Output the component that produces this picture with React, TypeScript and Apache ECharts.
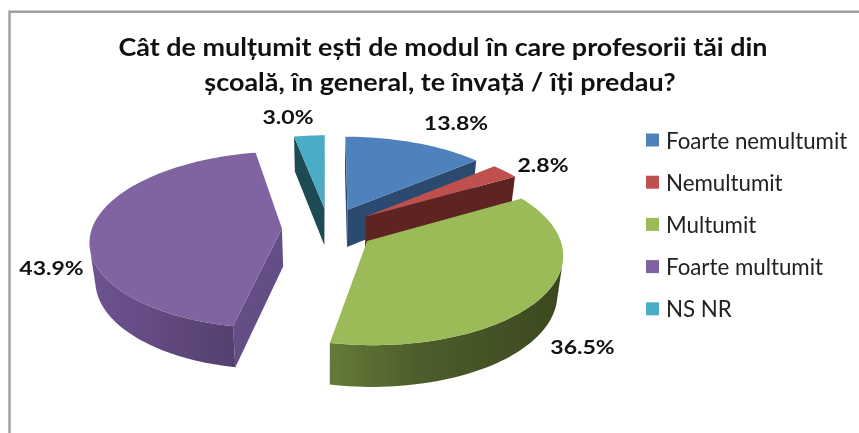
import React, { useEffect, useRef } from "react";
import * as echarts from "echarts";

const categories = ["Foarte nemultumit", "Nemultumit", "Multumit", "Foarte multumit", "NS NR"];
const values = [13.8, 2.8, 36.5, 43.9, 3.0];
const titleLines = [
  "Cât de mulțumit ești de modul în care profesorii tăi din",
  "școală, în general, te învață / îți predau?",
];
const topColors = ["#4F81BD", "#C0504D", "#9BBB59", "#8064A2", "#4BACC6"];
const cutColors = ["#2C4A70", "#5E2422", "#4A5C28", "#654D85", "#1E4A54"];
const wallStops = [
  ["#2C4A70", "#2C4A70", "#2C4A70"],
  ["#5E2422", "#5E2422", "#5E2422"],
  ["#647B38", "#4C5C2A", "#3B481F"],
  ["#6E5490", "#644B84", "#553F6E"],
  ["#1E4A54", "#1E4A54", "#1E4A54"],
];
const labelAnchors = [
  [456, 123],
  [543, 165],
  [582.5, 347],
  [51.5, 267.5],
  [288, 117],
];
const drawOrder = [4, 0, 1, 2, 3];

const CX = 328.5, CY = 228.5, RX = 190, RY = 87, K = 0.13, DEPTH = 38, SHRINK = 0.975, EXPLODE = 0.245;
const total = values.reduce((a, b) => a + b, 0);

type P = [number, number];
const top = (X: number, Y: number): P => {
  const s = 1 / (1 + K * Y);
  return [CX + X * RX * s, CY - Y * RY * s];
};
const bot = (X: number, Y: number): P => {
  const s = 1 / (1 + K * Y);
  return [CX + X * RX * s * SHRINK, CY - Y * RY * s * SHRINK + DEPTH * s];
};
const area = (pts: P[]) => {
  let a = 0;
  pts.forEach((p, i) => {
    const q = pts[(i + 1) % pts.length];
    a += p[0] * q[1] - q[0] * p[1];
  });
  return a / 2;
};

function renderSlice(index: number) {
  return (_params: any, api: any) => {
    const before = values.slice(0, index).reduce((a, b) => a + b, 0);
    const value = api.value(0);
    const a0 = (before / total) * Math.PI * 2;
    const a1 = ((before + value) / total) * Math.PI * 2;
    const mid = (a0 + a1) / 2;
    const ox = EXPLODE * Math.sin(mid);
    const oy = EXPLODE * Math.cos(mid);
    const steps = Math.max(6, Math.ceil((a1 - a0) / 0.03));
    const rim: P[] = [];
    for (let i = 0; i <= steps; i++) {
      const a = a0 + ((a1 - a0) * i) / steps;
      rim.push([ox + Math.sin(a), oy + Math.cos(a)]);
    }
    const children: any[] = [];
    const quad = (u: P, v: P): P[] => [top(u[0], u[1]), top(v[0], v[1]), bot(v[0], v[1]), bot(u[0], u[1])];
    const apex: P = [ox, oy];
    const cuts: [P, P][] = [
      [apex, rim[0]],
      [rim[steps], apex],
    ];
    cuts.forEach(([u, v]) => {
      const q = quad(u, v);
      if (area(q) < 0) {
        children.push({ type: "polygon", shape: { points: q }, style: { fill: cutColors[index] } });
      }
    });
    const vis: P[] = [];
    for (let i = 0; i < steps; i++) {
      if (area(quad(rim[i], rim[i + 1])) < 0) {
        if (!vis.length) vis.push(rim[i]);
        vis.push(rim[i + 1]);
      }
    }
    if (vis.length > 1) {
      const pts = [...vis.map((p) => top(p[0], p[1])), ...vis.slice().reverse().map((p) => bot(p[0], p[1]))];
      children.push({
        type: "polygon",
        shape: { points: pts },
        style: {
          fill: new echarts.graphic.LinearGradient(0, 0, 1, 0, [
            { offset: 0, color: wallStops[index][0] },
            { offset: 0.4, color: wallStops[index][1] },
            { offset: 1, color: wallStops[index][2] },
          ]),
        },
      });
    }
    const face: P[] = [top(apex[0], apex[1]), ...rim.map((p) => top(p[0], p[1]))];
    children.push({ type: "polygon", shape: { points: face }, style: { fill: topColors[index] } });
    children.push({
      type: "text",
      x: labelAnchors[index][0],
      y: labelAnchors[index][1],
      scaleX: 1.18,
      style: {
        text: value.toFixed(1) + "%",
        fontFamily: "Lato",
        fontWeight: "bold",
        fontSize: 19.5,
        fill: "#111111",
        align: "center",
        verticalAlign: "middle",
      },
    });
    return { type: "group", children };
  };
}

export default function App() {
  const ref = useRef<HTMLDivElement>(null);
  useEffect(() => {
    const chart = echarts.init(ref.current!, undefined, { renderer: "svg" });
    chart.setOption({
      animation: false,
      backgroundColor: "#ffffff",
      legend: {
        show: true,
        data: categories,
        orient: "vertical",
        left: 646,
        top: 129,
        padding: 0,
        icon: "rect",
        itemWidth: 13,
        itemHeight: 13,
        itemGap: 20.2,
        selectedMode: false,
        textStyle: { fontFamily: "Lato", fontSize: 22.3, color: "#222222", lineHeight: 22, padding: [0, 0, 0, 2] },
      },
      graphic: [
        {
          type: "polyline",
          shape: { points: [[9.5, 433], [9.5, 11.7], [859, 11.7]] },
          style: { stroke: "#A0A0A0", lineWidth: 2.5, fill: "none" },
        },
        {
          type: "text",
          x: 443,
          y: 47,
          scaleX: 1.122,
          style: {
            text: titleLines[0],
            fontFamily: "Lato",
            fontWeight: "bold",
            fontSize: 24,
            fill: "#111111",
            align: "center",
            verticalAlign: "middle",
          },
        },
        {
          type: "text",
          x: 440,
          y: 82,
          scaleX: 1.122,
          style: {
            text: titleLines[1],
            fontFamily: "Lato",
            fontWeight: "bold",
            fontSize: 24,
            fill: "#111111",
            align: "center",
            verticalAlign: "middle",
          },
        },
      ],
      series: drawOrder.map((i, z) => ({
        type: "custom",
        name: categories[i],
        coordinateSystem: "none",
        z: z + 2,
        itemStyle: { color: topColors[i] },
        data: [[values[i]]],
        renderItem: renderSlice(i),
      })),
    });
    return () => chart.dispose();
  }, []);
  return (
    <div
      ref={ref}
      style={{ position: "absolute", left: 0, top: 0, width: 859, height: 433, filter: "blur(0.4px)" }}
    />
  );
}
